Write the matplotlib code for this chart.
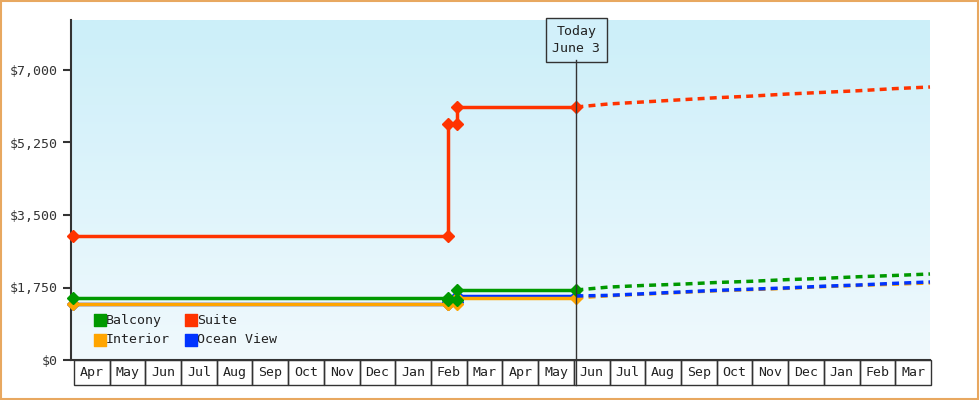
import matplotlib
matplotlib.use("Agg")
import matplotlib.pyplot as plt
import numpy as np
from matplotlib.patches import Rectangle
from matplotlib.colors import LinearSegmentedColormap

months = ["Apr","May","Jun","Jul","Aug","Sep","Oct","Nov","Dec","Jan","Feb","Mar",
          "Apr","May","Jun","Jul","Aug","Sep","Oct","Nov","Dec","Jan","Feb","Mar"]
today = 14.1
hist_x = [0, 10.5, 10.5, 10.75, 10.75, today]
suite_h = [3000, 3000, 5700, 5700, 6107, 6107]
balcony_h = [1500, 1500, 1450, 1450, 1690, 1690]
interior_h = [1350, 1350, 1350, 1350, 1500, 1500]
ocean_h = [1350, 1350, 1400, 1400, 1545, 1545]
fc_x = [today, 15, 16, 17, 18, 19, 20, 21, 22, 23, 24]
suite_f = [6107, 6180, 6230, 6280, 6330, 6370, 6420, 6460, 6500, 6550, 6590]
balcony_f = [1690, 1760, 1800, 1830, 1870, 1900, 1940, 1970, 2010, 2040, 2076]
interior_f = [1500, 1550, 1590, 1630, 1670, 1700, 1730, 1770, 1800, 1830, 1860]
ocean_f = [1545, 1560, 1600, 1640, 1680, 1710, 1740, 1780, 1810, 1850, 1883]

plt.rcParams['font.family'] = ['DejaVu Sans Mono']
fig = plt.figure(figsize=(9.8, 4), dpi=100)
fig.patches.append(Rectangle((0.001, 0.002), 0.997, 0.995, transform=fig.transFigure,
                             fill=False, edgecolor='#e8a860', lw=1.5))
ax = fig.add_axes([71/980, 0.1, (930-71)/980, 0.85])
ymax = 340/290*7000
ax.set_xlim(-0.05, 24)
ax.set_ylim(0, ymax)
grad = np.linspace(0, 1, 256).reshape(-1, 1)
cm = LinearSegmentedColormap.from_list('g', ['#f0f9fd', '#cceff9'])
ax.imshow(grad, aspect='auto', cmap=cm, extent=[-0.05, 24, 0, ymax], origin='lower', zorder=0)

series = [("Ocean View", '#0033ff', ocean_h, ocean_f, 2.5, 3.5),
          ("Interior", '#ffa500', interior_h, interior_f, 3, 3),
          ("Balcony", '#009900', balcony_h, balcony_f, 3.2, 3.6),
          ("Suite", '#ff3300', suite_h, suite_f, 3.3, 3.7)]
for name, c, h, f, zh, zf in series:
    ax.plot(hist_x, h, color=c, lw=2.5, marker='D', ms=6, zorder=zh, clip_on=False)
    ax.plot(fc_x, f, color=c, lw=2.5, ls=(0, (2, 1.5)), zorder=zf, clip_on=False)

ax.set_yticks([0, 1750, 3500, 5250, 7000])
ax.set_yticklabels(["$0", "$1,750", "$3,500", "$5,250", "$7,000"])
ax.tick_params(axis='y', length=6, width=1.5, labelsize=9.5, colors='#333333')
ax.set_xticks([])
for s in ['top', 'right']:
    ax.spines[s].set_visible(False)
for s in ['left', 'bottom']:
    ax.spines[s].set_linewidth(1.5)
    ax.spines[s].set_color('#333333')

trans = ax.get_xaxis_transform()
boxh = 25/340
for i, m in enumerate(months):
    ax.add_patch(Rectangle((i + 0.03, -boxh), 1, boxh, transform=trans, fill=False,
                           edgecolor='#333333', lw=1, clip_on=False))
    ax.text(i + 0.53, -boxh/2, m, transform=trans, ha='center', va='center',
            fontsize=9.5, color='#222222', clip_on=False)

ax.plot([today, today], [-boxh, 1 - 40/340], transform=trans, color='#333333', lw=1, clip_on=False, zorder=4)
ax.text(today, 1 - 20/340, "Today\nJune 3", transform=trans, ha='center', va='center',
        fontsize=9.5, color='#222222', linespacing=1.4,
        bbox=dict(boxstyle='square,pad=0.5', fc='#d2f0fa', ec='#333333', lw=1))

leg = [("Balcony", '#009900', 0.75, 965), ("Suite", '#ff3300', 3.3, 965),
       ("Interior", '#ffa500', 0.75, 483), ("Ocean View", '#0033ff', 3.3, 483)]
for name, c, lx, ly in leg:
    ax.scatter([lx], [ly], marker='s', s=70, color=c, zorder=5)
    ax.text(lx + 0.17, ly, name, va='center', ha='left', fontsize=9.5, color='#222222')

fig.savefig("out.png", dpi=100)
